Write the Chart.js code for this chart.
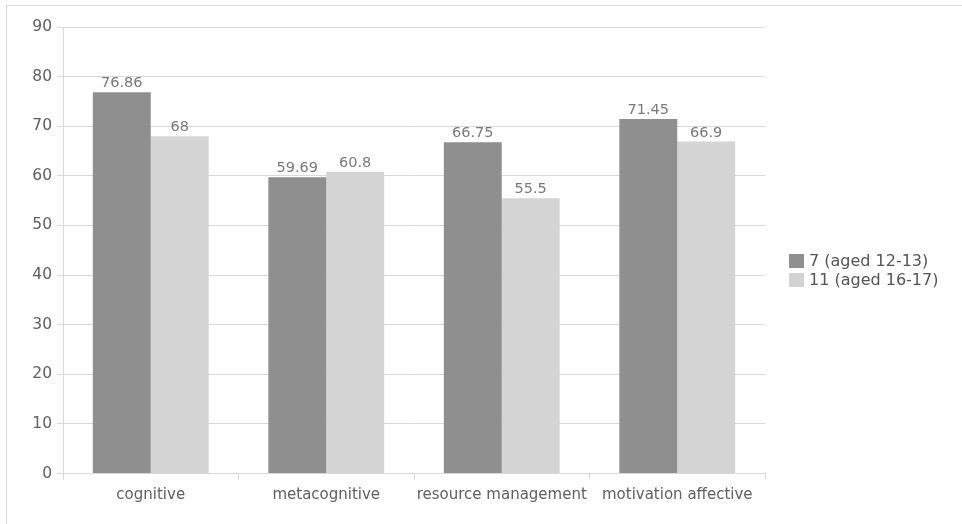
<!DOCTYPE html>
<html>
<head>
<meta charset="utf-8">
<script src="https://cdn.jsdelivr.net/npm/chart.js@4.4.1/dist/chart.umd.min.js"></script>
<style>
  html, body { margin: 0; padding: 0; background: #ffffff; }
  #wrap { width: 962px; height: 524px; }
</style>
</head>
<body>
<div id="wrap"><canvas id="c" width="962" height="524"></canvas></div>
<script>
const categories = ['cognitive', 'metacognitive', 'resource management', 'motivation affective'];
const seriesNames = ['7 (aged 12-13)', '11 (aged 16-17)'];
const grade7 = [76.86, 59.69, 66.75, 71.45];
const grade11 = [68, 60.8, 55.5, 66.9];
const yTicks = [0, 10, 20, 30, 40, 50, 60, 70, 80, 90];

const FONT = '"DejaVu Sans", "Open Sans", sans-serif';
const GRID = '#d9d9d9';

// frame around the whole chart
const framePlugin = {
  id: 'frame',
  beforeDraw(chart) {
    const ctx = chart.ctx;
    ctx.save();
    ctx.fillStyle = '#ffffff';
    ctx.fillRect(0, 0, chart.width, chart.height);
    ctx.strokeStyle = GRID;
    ctx.lineWidth = 1;
    ctx.strokeRect(6.5, 5.5, chart.width + 10, chart.height + 10);
    ctx.restore();
  }
};

// value labels above every bar
const valueLabels = {
  id: 'valueLabels',
  afterDatasetsDraw(chart) {
    const ctx = chart.ctx;
    ctx.save();
    ctx.font = '14.5px ' + FONT;
    ctx.fillStyle = '#7a7a7a';
    ctx.textAlign = 'center';
    ctx.textBaseline = 'alphabetic';
    chart.data.datasets.forEach((ds, i) => {
      chart.getDatasetMeta(i).data.forEach((bar, j) => {
        ctx.fillText(String(ds.data[j]), bar.x, bar.y - 5);
      });
    });
    ctx.restore();
  }
};

// legend on the right, one row per series
const sideLegend = {
  id: 'sideLegend',
  afterDraw(chart) {
    const ctx = chart.ctx;
    ctx.save();
    ctx.font = '16px ' + FONT;
    ctx.textBaseline = 'middle';
    ctx.textAlign = 'left';
    const x = 789;
    const y0 = 261;
    chart.data.datasets.forEach((ds, i) => {
      const y = y0 + i * 19;
      ctx.fillStyle = ds.backgroundColor;
      ctx.fillRect(x, y - 7, 15, 14);
      ctx.fillStyle = '#555555';
      ctx.fillText(ds.label, x + 20, y + 1);
    });
    ctx.restore();
  }
};

new Chart(document.getElementById('c'), {
  type: 'bar',
  data: {
    labels: categories,
    datasets: [
      { label: seriesNames[0], data: grade7, backgroundColor: '#8f8f8f' },
      { label: seriesNames[1], data: grade11, backgroundColor: '#d4d4d4' }
    ]
  },
  options: {
    responsive: false,
    animation: false,
    devicePixelRatio: 1,
    layout: { padding: { top: 27, right: 197, bottom: 0, left: 0 } },
    datasets: { bar: { categoryPercentage: 0.66, barPercentage: 1.0 } },
    plugins: { legend: { display: false }, tooltip: { enabled: false } },
    scales: {
      x: {
        grid: { offset: true, drawOnChartArea: false, drawTicks: true, tickLength: 6, color: GRID },
        border: { color: GRID },
        ticks: { color: '#606060', font: { family: FONT, size: 15 }, padding: 7, maxRotation: 0 },
        afterFit(scale) { scale.height = 50.5; }
      },
      y: {
        min: 0, max: 90,
        afterBuildTicks(scale) { scale.ticks = yTicks.map(v => ({ value: v })); },
        grid: { color: GRID, drawTicks: true, tickLength: 6 },
        border: { color: GRID },
        ticks: { color: '#606060', font: { family: FONT, size: 15.5 }, padding: 5 },
        afterFit(scale) { scale.width = 63; }
      }
    }
  },
  plugins: [framePlugin, valueLabels, sideLegend]
});
</script>
</body>
</html>
